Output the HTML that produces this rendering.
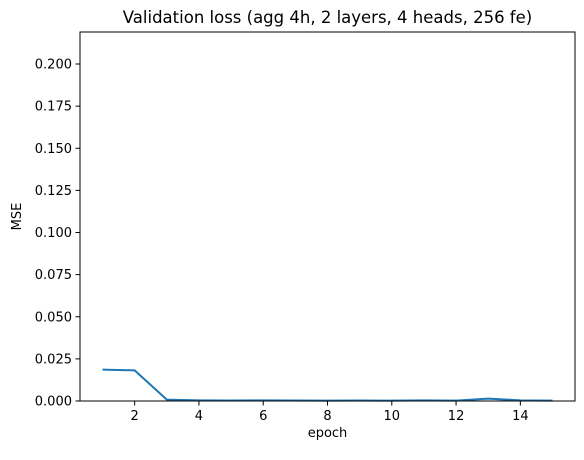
<!DOCTYPE html>
<html><head><meta charset="utf-8"><style>
body{margin:0;background:#fff;font-family:"Liberation Sans","DejaVu Sans",sans-serif}
svg text{font-family:"DejaVu Sans","Liberation Sans",sans-serif;fill:#000}
</style></head><body>
<svg id="c" width="584" height="455"></svg>
<script>
const epochs=[1,2,3,4,5,6,7,8,9,10,11,12,13,14,15];
const mse=[0.0186,0.0182,0.0008,0.0004,0.0003,0.0004,0.0003,0.0002,0.0003,0.0002,0.0004,0.0002,0.0014,0.0004,0.0002];
const xTicks=[2,4,6,8,10,12,14];
const yTicks=[0,0.025,0.05,0.075,0.1,0.125,0.15,0.175,0.2];
const yTickLabels=["0.000","0.025","0.050","0.075","0.100","0.125","0.150","0.175","0.200"];
const L=80,R=575,T=32,B=401,x0=0.3,x1=15.7,y0=0,y1=0.219;
const sx=v=>L+(v-x0)/(x1-x0)*(R-L), sy=v=>B-(v-y0)/(y1-y0)*(B-T);
const svg=document.getElementById('c'),NS='http://www.w3.org/2000/svg';
function mk(t,a,p){const e=document.createElementNS(NS,t);for(const k in a)e.setAttribute(k,a[k]);(p||svg).appendChild(e);return e;}
let p=mk('polyline',{points:epochs.map((e,i)=>sx(e)+','+sy(mse[i])).join(' '),fill:'none',stroke:'#1f77b4','stroke-width':2});


xTicks.forEach(v=>{const x=sx(v);
 mk('line',{x1:x,x2:x,y1:B,y2:B+4.5,stroke:'#000','stroke-width':1});
 const t=mk('text',{x:x,y:B+19,'font-size':13,'text-anchor':'middle'});t.textContent=v;
 
 });
yTicks.forEach((v,i)=>{const y=sy(v);
 mk('line',{x1:L-4.5,x2:L,y1:y,y2:y,stroke:'#000','stroke-width':1});
 const t=mk('text',{x:L-8,y:y+4.5,'font-size':13,'text-anchor':'end'});t.textContent=yTickLabels[i];
 
 });
const f=mk('rect',{x:L,y:T,width:R-L,height:B-T,fill:'none',stroke:'#000','stroke-width':1});


let t=mk('text',{x:(L+R)/2,y:T-9,'font-size':16.5,'text-anchor':'middle'});t.textContent='Validation loss (agg 4h, 2 layers, 4 heads, 256 fe)';


t=mk('text',{x:(L+R)/2,y:B+36,'font-size':13,'text-anchor':'middle'});t.textContent='epoch';


t=mk('text',{x:21,y:(T+B)/2,'font-size':13,'text-anchor':'middle',transform:'rotate(-90 21 '+(T+B)/2+')'});t.textContent='MSE';


</script>
</body></html>
